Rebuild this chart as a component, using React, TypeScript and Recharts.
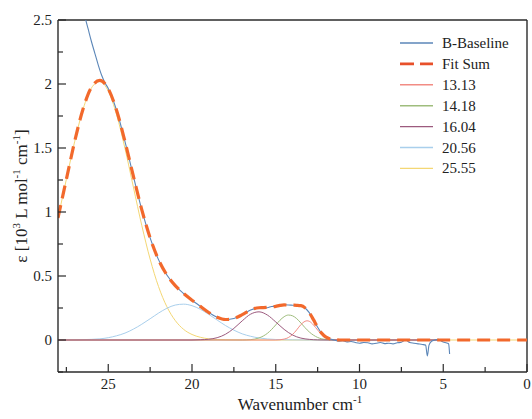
import { LineChart, Line, XAxis, YAxis, ReferenceLine, Legend } from 'recharts';

// wavenumber (10^3 cm^-1) / epsilon (10^3 L mol^-1 cm^-1)
const fitWavenumber = [28, 27.5, 27, 26.5, 26, 25.5, 25, 24.5, 24, 23.5, 23, 22.5, 22, 21.5, 21, 20.5, 20, 19.5, 19, 18.5, 18, 17.5, 17, 16.5, 16, 15.75, 15.5, 15.25, 15, 14.75, 14.5, 14.25, 14, 13.75, 13.5, 13.25, 13, 12.75, 12.5, 12.25, 12, 11.75, 11.5, 11, 0];
const fitSum = [0.954, 1.256, 1.554, 1.807, 1.975, 2.028, 1.963, 1.793, 1.55, 1.28, 1.019, 0.798, 0.628, 0.508, 0.425, 0.363, 0.311, 0.263, 0.215, 0.178, 0.16, 0.168, 0.198, 0.234, 0.252, 0.253, 0.255, 0.258, 0.263, 0.27, 0.274, 0.273, 0.272, 0.271, 0.268, 0.251, 0.214, 0.159, 0.099, 0.052, 0.022, 0.008, 0.003, 0, 0];

const baselineWavenumber = [26.6, 26.4, 26.2, 26, 25.8, 25.6, 25.4, 25.2, 25, 24.5, 24, 23.5, 23, 22.5, 22, 21.5, 21, 20.5, 20, 19.5, 19, 18.5, 18, 17.5, 17, 16.5, 16, 15.75, 15.5, 15.25, 15, 14.75, 14.5, 14.25, 14, 13.75, 13.5, 13.25, 13, 12.75, 12.5, 12.25, 12, 11.75, 11.5, 11.25, 11, 10.75, 10.5, 10.25, 10, 9.75, 9.5, 9.25, 9, 8.75, 8.5, 8.25, 8, 7.75, 7.5, 7.25, 7, 6.75, 6.5, 6.25, 6.05, 5.95, 5.85, 5.7, 5.5, 5.3, 5.1, 4.9, 4.75, 4.68, 4.62];
const baseline = [2.65, 2.53, 2.43, 2.33, 2.24, 2.15, 2.07, 2.01, 1.965, 1.793, 1.55, 1.28, 1.019, 0.798, 0.628, 0.508, 0.425, 0.363, 0.311, 0.263, 0.215, 0.178, 0.16, 0.168, 0.198, 0.234, 0.252, 0.256, 0.252, 0.262, 0.264, 0.272, 0.275, 0.274, 0.272, 0.27, 0.266, 0.25, 0.214, 0.16, 0.1, 0.052, 0.022, 0.008, 0, -0.01, -0.005, -0.015, -0.012, -0.02, -0.025, -0.02, -0.022, -0.03, -0.025, -0.02, -0.028, -0.025, -0.03, -0.022, -0.018, 0, -0.02, -0.025, -0.03, -0.035, -0.04, -0.125, -0.04, -0.01, 0, 0.005, -0.01, -0.02, -0.025, -0.03, -0.11];

const peak1313Wavenumber = [28, 15, 14.5, 14.25, 14, 13.75, 13.5, 13.25, 13.13, 13, 12.75, 12.5, 12.25, 12, 11.75, 11.5, 11, 4.6];
const peak1313 = [0, 0, 0.007, 0.019, 0.043, 0.079, 0.12, 0.146, 0.15, 0.146, 0.118, 0.078, 0.042, 0.018, 0.006, 0.002, 0, 0];

const peak1418Wavenumber = [28, 17, 16.5, 16, 15.5, 15.25, 15, 14.75, 14.5, 14.25, 14, 13.75, 13.5, 13.25, 13, 12.75, 12.5, 12, 11.5, 11, 4.6];
const peak1418 = [0, 0, 0.003, 0.016, 0.052, 0.082, 0.118, 0.154, 0.182, 0.195, 0.189, 0.167, 0.133, 0.096, 0.063, 0.038, 0.02, 0.004, 0.001, 0, 0];

const peak1604Wavenumber = [28, 20, 19.5, 19, 18.5, 18, 17.5, 17, 16.5, 16, 15.5, 15, 14.5, 14, 13.5, 13, 12.5, 12, 4.6];
const peak1604 = [0, 0, 0.002, 0.006, 0.018, 0.045, 0.091, 0.15, 0.202, 0.22, 0.195, 0.141, 0.083, 0.039, 0.015, 0.005, 0.001, 0, 0];

const peak2056Wavenumber = [28, 27, 26, 25.5, 25, 24.5, 24, 23.5, 23, 22.5, 22, 21.5, 21, 20.5, 20, 19.5, 19, 18.5, 18, 17.5, 17, 16.5, 16, 15.5, 15, 14.5, 14, 13, 4.6];
const peak2056 = [0, 0.001, 0.005, 0.009, 0.018, 0.033, 0.054, 0.085, 0.123, 0.166, 0.21, 0.248, 0.273, 0.28, 0.268, 0.24, 0.2, 0.156, 0.113, 0.077, 0.048, 0.029, 0.016, 0.008, 0.004, 0.002, 0.001, 0, 0];

const peak2555Wavenumber = [28, 27.5, 27, 26.5, 26, 25.5, 25, 24.5, 24, 23.5, 23, 22.5, 22, 21.5, 21, 20.5, 20, 19.5, 19, 18.5, 18, 17, 0];
const peak2555 = [0.954, 1.256, 1.553, 1.805, 1.97, 2.019, 1.945, 1.76, 1.496, 1.195, 0.896, 0.632, 0.418, 0.26, 0.152, 0.083, 0.043, 0.021, 0.009, 0.004, 0.002, 0, 0];

const legendLabels = ['B-Baseline', 'Fit Sum', '13.13', '14.18', '16.04', '20.56', '25.55'];
const xTicks = [27.5, 25, 22.5, 20, 17.5, 15, 12.5, 10, 7.5, 5, 2.5, 0];
const yTicks = [-0.25, 0, 0.25, 0.5, 0.75, 1, 1.25, 1.5, 1.75, 2, 2.25, 2.5];

const FONT = '"Liberation Serif", "DejaVu Serif", serif';
const AXIS = '#2b2b2b';
const textStyle = { fontFamily: FONT };

const COLORS: Record<string, string> = {
  'B-Baseline': '#5b86b8',
  'Fit Sum': '#f2692c',
  '13.13': '#f28c84',
  '14.18': '#9fbd7d',
  '16.04': '#9c5a7e',
  '20.56': '#a9cfec',
  '25.55': '#f4d774',
};

const toPoints = (xs: number[], ys: number[]) => xs.map((x, i) => ({ x, y: ys[i] }));

// draw order: components first (16.04 last so the zero line reads mauve on the left), then data, then fit
const components = [
  { name: '25.55', points: toPoints(peak2555Wavenumber, peak2555) },
  { name: '20.56', points: toPoints(peak2056Wavenumber, peak2056) },
  { name: '14.18', points: toPoints(peak1418Wavenumber, peak1418) },
  { name: '13.13', points: toPoints(peak1313Wavenumber, peak1313) },
  { name: '16.04', points: toPoints(peak1604Wavenumber, peak1604) },
];

const XTick = ({ x, y, payload }: any) => {
  const v = payload.value as number;
  const major = v % 5 === 0;
  return (
    <g>
      <line x1={x} x2={x} y1={y} y2={y - (major ? 8 : 5)} stroke={AXIS} strokeWidth={1.2} />
      {major && (
        <text x={x} y={y + 17} textAnchor="middle" style={textStyle} fontSize={15} fill="#222">
          {v}
        </text>
      )}
    </g>
  );
};

const YTick = ({ x, y, payload }: any) => {
  const v = payload.value as number;
  const major = v >= 0 && (v * 2) % 1 === 0;
  return (
    <g>
      <line x1={x} x2={x + (major ? 8 : 5)} y1={y} y2={y} stroke={AXIS} strokeWidth={1.2} />
      {major && (
        <text x={x - 6} y={y + 5} textAnchor="end" style={textStyle} fontSize={15} fill="#222">
          {v}
        </text>
      )}
    </g>
  );
};

const XTitle = () => (
  <text x={300} y={410} textAnchor="middle" style={textStyle} fontSize={17} fill="#222">
    Wavenumber cm<tspan dy={-7} fontSize={11}>-1</tspan>
  </text>
);

const YTitle = () => (
  <text
    x={27}
    y={196}
    transform="rotate(-90, 27, 196)"
    textAnchor="middle"
    style={textStyle}
    fontSize={17}
    fill="#222"
  >
    ε [10<tspan dy={-7} fontSize={11}>3</tspan>
    <tspan dy={7}> L mol</tspan>
    <tspan dy={-7} fontSize={11}>-1</tspan>
    <tspan dy={7}> cm</tspan>
    <tspan dy={-7} fontSize={11}>-1</tspan>
    <tspan dy={7}>]</tspan>
  </text>
);

const LegendBox = () => (
  <svg width={132} height={150}>
    {legendLabels.map((label, i) => {
      const cy = 11 + i * 20.9;
      const color = COLORS[label];
      return (
        <g key={label}>
          {label === 'Fit Sum' ? (
            <line x1={4} x2={37} y1={cy} y2={cy} stroke="#e8502a" strokeWidth={2.6} strokeDasharray="14 6" />
          ) : (
            <line x1={4} x2={37} y1={cy} y2={cy} stroke={color} strokeWidth={1.4} />
          )}
          <text x={46} y={cy + 5} style={textStyle} fontSize={15} fill="#222">
            {label}
          </text>
        </g>
      );
    })}
  </svg>
);

export default function App() {
  return (
    <div
      style={{ position: 'absolute', left: 0, top: 0, width: 532, height: 419, background: '#fff', fontFamily: FONT }}
    >
      <LineChart width={532} height={419} margin={{ top: 20, right: 5, bottom: 0, left: 0 }}>
        <XAxis
          dataKey="x"
          type="number"
          domain={[0, 28]}
          reversed
          allowDataOverflow
          ticks={xTicks}
          interval={0}
          height={47}
          tickSize={0}
          tickMargin={0}
          tickLine={false}
          tick={<XTick />}
          axisLine={{ stroke: AXIS, strokeWidth: 1.4 }}
          label={{ content: () => <XTitle /> }}
        />
        <YAxis
          dataKey="y"
          type="number"
          domain={[-0.25, 2.5]}
          allowDataOverflow
          ticks={yTicks}
          interval={0}
          width={58}
          tickSize={0}
          tickMargin={0}
          tickLine={false}
          tick={<YTick />}
          axisLine={{ stroke: AXIS, strokeWidth: 1.4 }}
          label={{ content: () => <YTitle /> }}
        />
        <ReferenceLine y={2.5} stroke={AXIS} strokeWidth={1.4} />
        <ReferenceLine x={0} stroke={AXIS} strokeWidth={1.4} />
        {components.map((c) => (
          <Line
            key={c.name}
            data={c.points}
            dataKey="y"
            name={c.name}
            type="monotone"
            stroke={COLORS[c.name]}
            strokeWidth={1}
            dot={false}
            isAnimationActive={false}
          />
        ))}
        <Line
          data={toPoints(baselineWavenumber, baseline)}
          dataKey="y"
          name="B-Baseline"
          type="monotone"
          stroke={COLORS['B-Baseline']}
          strokeWidth={1.1}
          dot={false}
          isAnimationActive={false}
        />
        <Line
          data={toPoints(fitWavenumber, fitSum)}
          dataKey="y"
          name="Fit Sum"
          type="monotone"
          stroke={COLORS['Fit Sum']}
          strokeWidth={3.2}
          strokeDasharray="13 7"
          dot={false}
          isAnimationActive={false}
        />
        <Legend
          layout="vertical"
          align="center"
          verticalAlign="middle"
          content={() => <LegendBox />}
          wrapperStyle={{ left: 396, top: 32, width: 132 }}
        />
      </LineChart>
    </div>
  );
}
